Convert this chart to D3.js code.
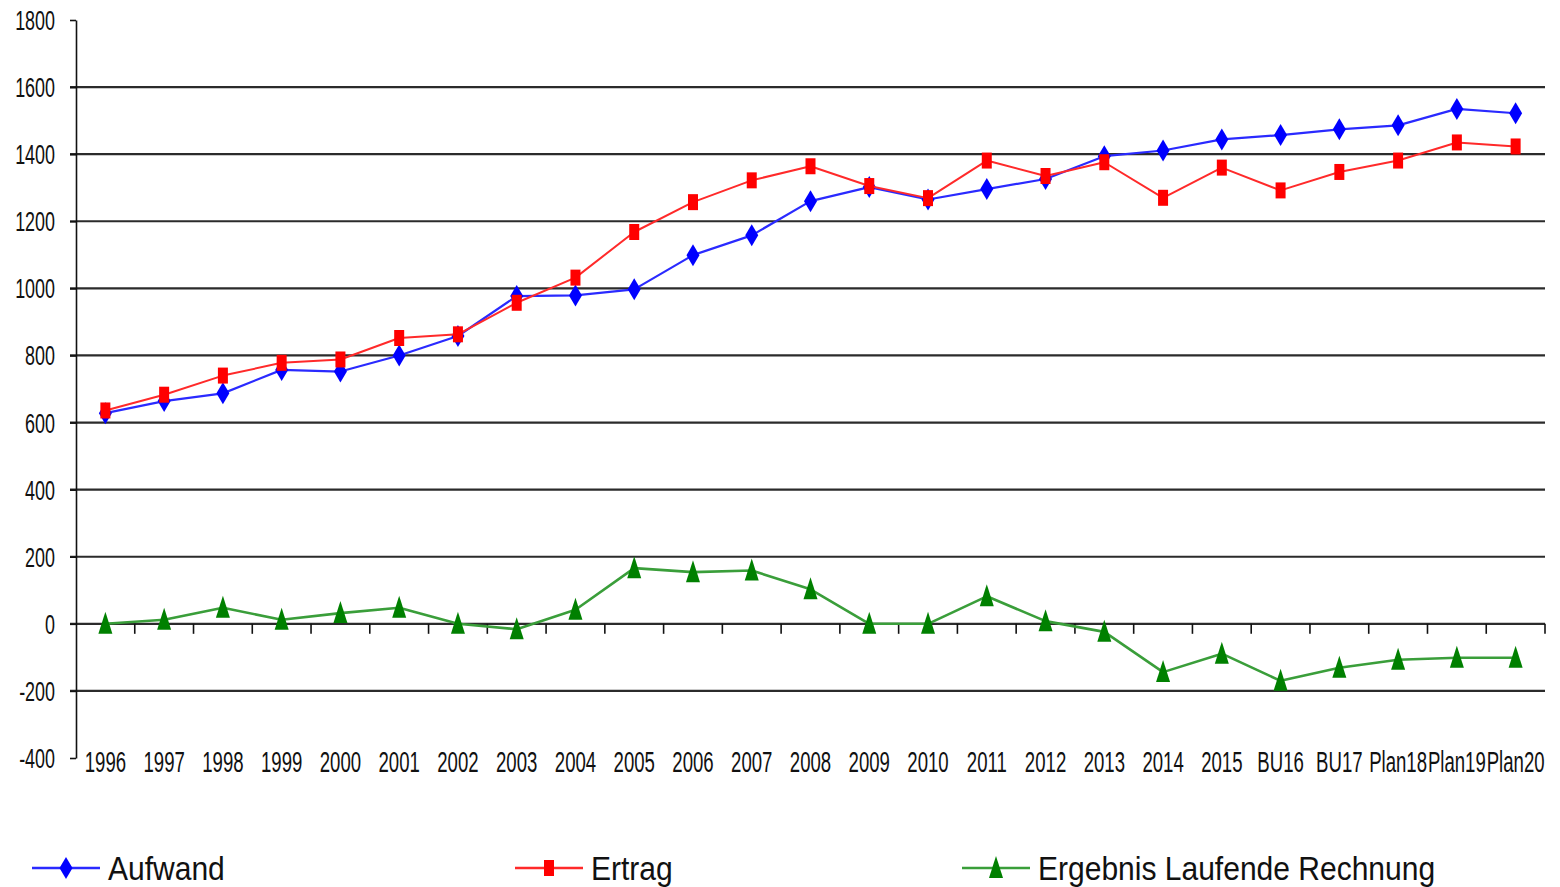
<!DOCTYPE html>
<html>
<head>
<meta charset="utf-8">
<script src="https://cdn.jsdelivr.net/npm/d3@7"></script>
<style>
  body { margin: 0; background: #fff; }
  svg { display: block; }
  text { font-family: "Liberation Sans", Arial, sans-serif; fill: #111; }
</style>
</head>
<body>
<svg id="chart" width="1560" height="887"></svg>
<script>
// Categories along the x axis
const categories = ["1996","1997","1998","1999","2000","2001","2002","2003","2004","2005",
  "2006","2007","2008","2009","2010","2011","2012","2013","2014","2015",
  "BU16","BU17","Plan18","Plan19","Plan20"];

// Series values
const aufwand = [628, 664, 687, 757, 752, 800, 858, 977, 979, 997,
  1099, 1158, 1260, 1302, 1265, 1296, 1326, 1394, 1411, 1444,
  1457, 1474, 1486, 1535, 1522];
const ertrag = [636, 683, 740, 778, 788, 852, 863, 957, 1032, 1168,
  1257, 1322, 1364, 1305, 1269, 1381, 1335, 1376, 1270, 1360,
  1292, 1347, 1381, 1435, 1423];
const ergebnis = [0, 12, 48, 12, 32, 48, 0, -16, 42, 166,
  154, 159, 103, 0, 0, 82, 8, -24, -144, -89,
  -170, -131, -107, -101, -101];

// Axis ticks
const yTicks = [-400, -200, 0, 200, 400, 600, 800, 1000, 1200, 1400, 1600, 1800];

const seriesNames = ["Aufwand", "Ertrag", "Ergebnis Laufende Rechnung"];

const svg = d3.select("#chart");
const plotLeft = 76, plotRight = 1545, plotTop = 20, plotBottom = 758;

const x = d3.scaleBand().domain(categories).range([plotLeft, plotRight]);
const y = d3.scaleLinear().domain([-400, 1800]).range([plotBottom, plotTop]);
const cx = c => x(c) + x.bandwidth() / 2;

// Horizontal grid lines
svg.append("g").selectAll("line")
  .data(yTicks.filter(t => t > -400 && t < 1800))
  .join("line")
  .attr("x1", plotLeft - 6).attr("x2", plotRight)
  .attr("y1", d => y(d)).attr("y2", d => y(d))
  .attr("stroke", "#2b2b2b").attr("stroke-width", 2.2);

// Y axis line and ticks
const yAxis = svg.append("g")
  .attr("transform", `translate(${plotLeft},0)`)
  .call(d3.axisLeft(y).tickValues(yTicks).tickSize(6).tickSizeOuter(0).tickFormat(""));
yAxis.select(".domain").attr("stroke", "#111").attr("stroke-width", 1.6);
yAxis.selectAll(".tick line").attr("stroke", "#111").attr("stroke-width", 1.6);

// Y tick labels (narrow lettering)
svg.append("g").selectAll("text")
  .data(yTicks)
  .join("text")
  .attr("transform", d => `translate(55,${y(d) + 10}) scale(0.64,1)`)
  .attr("text-anchor", "end")
  .style("font-size", "28px")
  .text(d => d);

// X axis ticks at category boundaries, on the zero line
const xBounds = categories.slice(1).map(c => x(c)).concat([plotRight]);
svg.append("g").selectAll("line")
  .data(xBounds)
  .join("line")
  .attr("x1", d => d).attr("x2", d => d)
  .attr("y1", y(0)).attr("y2", y(0) + 10)
  .attr("stroke", "#111").attr("stroke-width", 1.6);

// X category labels
svg.append("g").selectAll("text")
  .data(categories)
  .join("text")
  .attr("transform", d => `translate(${cx(d)},772) scale(0.62,1)`)
  .attr("text-anchor", "middle")
  .style("font-size", "30px")
  .text(d => d);

// Marker shapes (tall, as drawn)
function markerPath(kind) {
  if (kind === "diamond") return "M0,-11L6.5,0L0,11L-6.5,0Z";
  if (kind === "square") return "M-5,-8L5,-8L5,8L-5,8Z";
  return "M0,-12L7,10L-7,10Z";
}

const series = [
  { name: seriesNames[0], values: aufwand, color: "#0000ff", line: "#2a2aff", width: 2.2, marker: "diamond" },
  { name: seriesNames[1], values: ertrag, color: "#ff0000", line: "#ff2a2a", width: 2, marker: "square" },
  { name: seriesNames[2], values: ergebnis, color: "#008000", line: "#3a9e3a", width: 2.6, marker: "triangle" }
];

const lineGen = d3.line().x(d => cx(d.c)).y(d => y(d.v));

series.forEach(s => {
  const pts = categories.map((c, i) => ({ c, v: s.values[i] }));
  const g = svg.append("g");
  g.append("path")
    .attr("d", lineGen(pts))
    .attr("fill", "none")
    .attr("stroke", s.line)
    .attr("stroke-width", s.width)
    .attr("stroke-linejoin", "round");
  g.selectAll("path.m")
    .data(pts)
    .join("path")
    .attr("class", "m")
    .attr("d", markerPath(s.marker))
    .attr("transform", d => `translate(${cx(d.c)},${y(d.v)})`)
    .attr("fill", s.color);
});

// Legend
const legendX = [32, 515, 962];
const legendY = 868;
series.forEach((s, i) => {
  const g = svg.append("g").attr("transform", `translate(${legendX[i]},${legendY})`);
  g.append("line")
    .attr("x1", 0).attr("x2", 68).attr("y1", 0).attr("y2", 0)
    .attr("stroke", s.line).attr("stroke-width", 2.4);
  g.append("path")
    .attr("d", markerPath(s.marker))
    .attr("transform", "translate(34,0)")
    .attr("fill", s.color);
  g.append("text")
    .attr("transform", "translate(76,12) scale(0.91,1)")
    .style("font-size", "33px")
    .text(s.name);
});
</script>
</body>
</html>
